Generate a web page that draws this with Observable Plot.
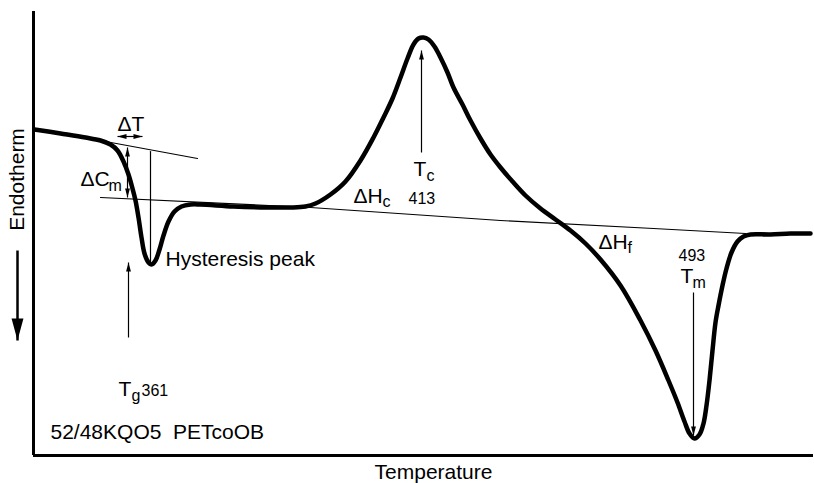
<!DOCTYPE html>
<html><head><meta charset="utf-8">
<script src="https://cdn.jsdelivr.net/npm/d3@7"></script>
<script src="https://cdn.jsdelivr.net/npm/@observablehq/plot@0.6"></script>
<style>
html,body{margin:0;padding:0;background:#fff;}
</style></head><body><div id="chart"></div>
<script>
// DSC trace (arbitrary units): temperature → endotherm (endotherm points down)
const curveT = [1,27,52,67,77,84,90,95,99,102,105,108,111,115,118,122,126,130,135,141,148,157,167,200,234,257,272,282,297,312,327,340,350,359,367,374,380,385,390,395,401,407,414,420,429,437,447,457,467,479,492,507,522,537,552,567,587,607,622,635,644,651,656,661,666,670,673,676,679,682,685,689,693,698,704,710,717,737,757,777];
const curveE = [118,122,126,129,133,139,150,163,177,189,206,226,242,251,253,249,238,224,210,200,195,193,193,195,196,196,195,192,183,170,149,126,106,87,66,47,33,27,26,28,35,46,61,76,93,109,127,143,156,170,184,197,208,219,232,248,274,309,339,369,391,410,422,427,423,412,394,369,339,311,294,274,257,241,230,225,223,223,222,222];

// construction lines
const tangentT = [72,164];
const tangentE = [130,147];
const baselineT = [67,277,467,620,712];
const baselineE = [186,196,209,217,222];
const dropT = [117,117];
const dropE = [140,251];

// arrows: start → end, heads at "end" or at "both" ends
const arrowName = ["dCm","dT","Tg","Tc","Tm"];
const arrowT1 = [94,84,95,388,660];
const arrowE1 = [186,125,326,141,281];
const arrowT2 = [94,109,95,388,660];
const arrowE2 = [136,125,251,39,424];
const arrowHeads = ["both","both","end","end","end"];

// axis direction arrow (Endotherm)
const endoT1 = [-16], endoE1 = [239], endoT2 = [-16], endoE2 = [329];

// labels
const mainText = ["ΔT","ΔC","Hysteresis peak","T","T","ΔH","ΔH","T","52/48KQO5\u00a0\u00a0PETcoOB"];
const mainT = [84,47,132,85,380,320,565,647,17];
const mainE = [119,174,254,384,164,191,237,271,427];
const subText = ["m","g","c","c","f","m"];
const subT = [75,98,393,349,594,659];
const subE = [179,389,169,195,241,276];
const numText = ["361","413","493"];
const numT = [108,375,645];
const numE = [384,192,249];
const xTitle = "Temperature";
const yTitle = "Endotherm";

const zip = (a, b) => a.map((v, i) => ({t: v, e: b[i]}));
const curve = zip(curveT, curveE);
const tangent = zip(tangentT, tangentE);
const baseline = zip(baselineT, baselineE);
const drop = zip(dropT, dropE);
const arrows = arrowName.map((n, i) => ({t1: arrowT1[i], e1: arrowE1[i], t2: arrowT2[i], e2: arrowE2[i], heads: arrowHeads[i]}));
const angle = (dx, dy) => Math.atan2(dx, -dy) * 180 / Math.PI;
const heads = [];
for (const a of arrows) {
  heads.push({t: a.t2, e: a.e2, rot: angle(a.t2 - a.t1, a.e2 - a.e1)});
  if (a.heads === "both") heads.push({t: a.t1, e: a.e1, rot: angle(a.t1 - a.t2, a.e1 - a.e2)});
}
const endo = [{t1: endoT1[0], e1: endoE1[0], t2: endoT2[0], e2: endoE2[0]}];
const endoHead = [{t: endoT2[0], e: endoE2[0], rot: angle(endoT2[0]-endoT1[0], endoE2[0]-endoE1[0])}];
const labels = (txt, T, E) => txt.map((s, i) => ({s, t: T[i], e: E[i]}));

const headSymbol = {
  draw(context, size) {
    const r = Math.sqrt(size / Math.PI);
    context.moveTo(0, 0);
    context.lineTo(r * 0.27, r);
    context.lineTo(-r * 0.27, r);
    context.closePath();
  }
};

const font = "'Liberation Sans', Arial, Helvetica, sans-serif";
const chart = Plot.plot({
  width: 814,
  height: 483,
  marginLeft: 33,
  marginRight: 1,
  marginTop: 11,
  marginBottom: 28,
  x: {domain: [0, 780], axis: null},
  y: {domain: [0, 444], reverse: true, axis: null},
  style: {fontFamily: font, background: "white", overflow: "visible"},
  marks: [
    Plot.ruleX([0], {stroke: "black", strokeWidth: 3}),
    Plot.ruleY([444], {stroke: "black", strokeWidth: 3}),
    Plot.line(tangent, {x: "t", y: "e", stroke: "black", strokeWidth: 1.2}),
    Plot.line(baseline, {x: "t", y: "e", stroke: "black", strokeWidth: 1.2}),
    Plot.line(drop, {x: "t", y: "e", stroke: "black", strokeWidth: 1.2}),
    Plot.link(arrows, {x1: "t1", y1: "e1", x2: "t2", y2: "e2", stroke: "black", strokeWidth: 1.2}),
    Plot.dot(heads, {x: "t", y: "e", rotate: "rot", symbol: headSymbol, r: 9, fill: "black", stroke: "none"}),
    Plot.link(endo, {x1: "t1", y1: "e1", x2: "t2", y2: "e2", stroke: "black", strokeWidth: 2.5}),
    Plot.dot(endoHead, {x: "t", y: "e", rotate: "rot", symbol: headSymbol, r: 22, fill: "black", stroke: "none"}),
    Plot.line(curve, {x: "t", y: "e", curve: "catmull-rom", stroke: "black", strokeWidth: 4.5, strokeLinejoin: "round"}),
    Plot.text(labels(mainText, mainT, mainE), {x: "t", y: "e", text: "s", textAnchor: "start", lineAnchor: "bottom", fontSize: 21, fill: "black"}),
    Plot.text(labels(subText, subT, subE), {x: "t", y: "e", text: "s", textAnchor: "start", lineAnchor: "bottom", fontSize: 16, fill: "black"}),
    Plot.text(labels(numText, numT, numE), {x: "t", y: "e", text: "s", textAnchor: "start", lineAnchor: "bottom", fontSize: 16, fill: "black"}),
    Plot.text([xTitle], {x: 400, y: 467, text: d => d, textAnchor: "middle", lineAnchor: "bottom", fontSize: 21, fill: "black"}),
    Plot.text([yTitle], {x: -16, y: 168, text: d => d, rotate: -90, textAnchor: "middle", lineAnchor: "middle", fontSize: 21, fill: "black"})
  ]
});
document.getElementById("chart").appendChild(chart);
</script>
</body></html>
